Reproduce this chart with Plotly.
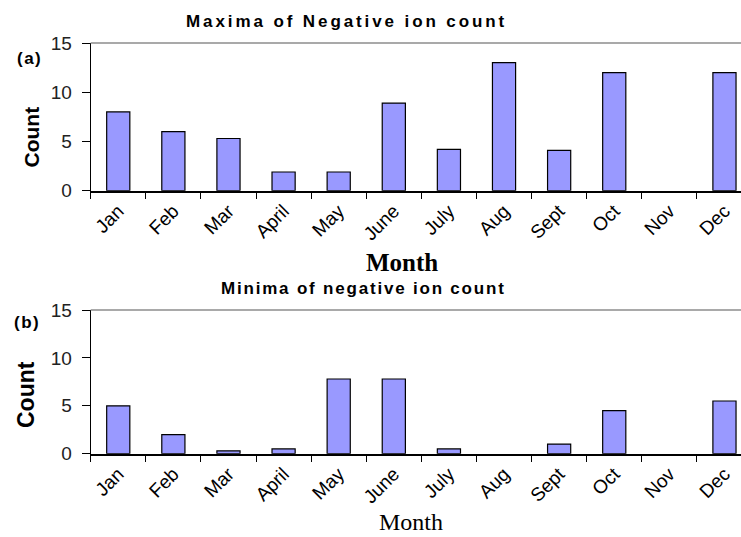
import plotly.graph_objects as go

# Monthly negative ion counts
months = ["Jan", "Feb", "Mar", "April", "May", "June", "July", "Aug", "Sept", "Oct", "Nov", "Dec"]
maxima = [8, 6, 5.3, 1.9, 1.9, 8.9, 4.2, 13, 4.1, 12, 0, 12]
minima = [5, 2, 0.3, 0.5, 7.8, 7.8, 0.5, 0, 1, 4.5, 0, 5.5]
y_ticks = [0, 5, 10, 15]

W, H = 741, 537
BAR_FILL = "#9999FF"
SANS = "Liberation Sans, Arial, sans-serif"
SERIF = "Liberation Serif, Times New Roman, serif"


def px(x):
    return x / W


def py(y):
    return 1 - y / H


def bar_marker(values):
    # empty months get no outline so nothing is drawn on the axis
    return dict(color=BAR_FILL,
                line=dict(color="#000000", width=[1.2 if v > 0 else 0 for v in values]))


fig = go.Figure()
fig.add_trace(go.Bar(x=months, y=maxima, xaxis="x", yaxis="y",
                     marker=bar_marker(maxima), showlegend=False))
fig.add_trace(go.Bar(x=months, y=minima, xaxis="x2", yaxis="y2",
                     marker=bar_marker(minima), showlegend=False))

x_common = dict(
    type="category", categoryorder="array", categoryarray=months,
    range=[-0.5, 11.3], tickson="boundaries", ticks="outside", ticklen=7,
    tickcolor="#000000", tickwidth=1, showline=True, linecolor="#000000", linewidth=1.5,
    tickangle=-45, tickfont=dict(family=SANS, size=19, color="#000000"),
    showgrid=False, zeroline=False, automargin=False,
)
y_common = dict(
    range=[0, 15], tickvals=y_ticks, ticks="outside", ticklen=8, tickcolor="#000000",
    showline=True, linecolor="#000000", linewidth=1, showgrid=False, zeroline=False,
    tickfont=dict(family=SANS, size=19, color="#222222"), ticklabelstandoff=6,
    automargin=False,
)

fig.update_layout(
    width=W, height=H, autosize=False,
    margin=dict(l=0, r=0, t=0, b=0, pad=0, autoexpand=False),
    paper_bgcolor="#FFFFFF", plot_bgcolor="#FFFFFF",
    bargap=0.58,
    xaxis=dict(domain=[px(90.7), 1], anchor="y", **x_common),
    yaxis=dict(domain=[py(190.7), py(43)], anchor="x", **y_common),
    xaxis2=dict(domain=[px(90.7), 1], anchor="y2", **x_common),
    yaxis2=dict(domain=[py(453.7), py(310)], anchor="x2", **y_common),
)

# grey border along the top of each plot area
for xr, yr in (("x domain", "y domain"), ("x2 domain", "y2 domain")):
    fig.add_shape(type="line", xref=xr, yref=yr, x0=0, x1=1, y0=1, y1=1,
                  line=dict(color="#8C8C8C", width=1.5))


def label(text, x, y, size, family=SANS, weight="bold", angle=0, spacing=0,
          yanchor="middle"):
    if spacing:
        text = f'<span style="letter-spacing:{spacing}px">{text}</span>'
    fig.add_annotation(text=text, x=px(x), y=py(y), xref="paper", yref="paper",
                       xanchor="center", yanchor=yanchor, showarrow=False,
                       textangle=angle,
                       font=dict(family=family, size=size, color="#000000", weight=weight))


label("Maxima of Negative ion count", 346, 22, 17, spacing=2.9)
label("Minima of negative ion count", 363, 288, 17, spacing=1.8)
label("(a)", 29.5, 59, 17, spacing=1.5)
label("(b)", 27, 322, 17, spacing=1.5)
label("Count", 30.5, 137, 21, angle=-90)
label("Count", 26, 395, 23, angle=-90)
label("Month", 402, 262, 25, family=SERIF)
label("Month", 411, 537, 24, family=SERIF, weight="normal", yanchor="bottom")

fig.write_html("out.html")
